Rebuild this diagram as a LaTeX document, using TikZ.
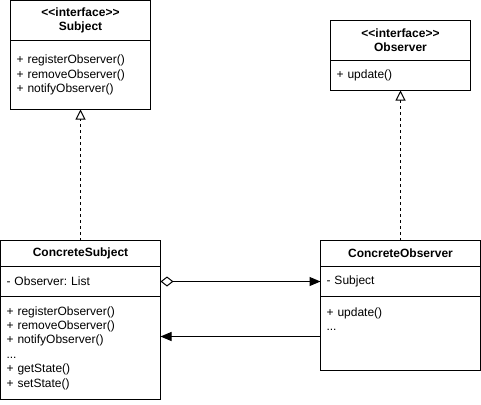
\documentclass[tikz,border=0pt]{standalone}
\usepackage{fontspec}
\newfontfamily\umlfont{Liberation Sans}
\usetikzlibrary{positioning,arrows.meta}
\frenchspacing

\begin{document}
\begin{tikzpicture}[x=0.75pt, y=-0.75pt, line width=0.75pt,
    every node/.style={rectangle, draw, outer sep=0pt, inner sep=0pt, font=\umlfont\fontsize{9}{10.8}\selectfont},
    head/.style={align=center, font=\umlfont\fontsize{9}{10.8}\selectfont\bfseries},
    part/.style={align=left, inner xsep=4.5pt},
    realize/.style={dash pattern=on 2.25pt off 2.25pt, -{Triangle[open, length=7.5pt, width=7.5pt]}},
    agg/.style={{Diamond[open, length=9.75pt, width=7.5pt]}-{Triangle[length=8.25pt, width=6.75pt]}},
    assoc/.style={-{Triangle[length=8.25pt, width=6.75pt]}}]
    \useasboundingbox (0,0) rectangle (481,404);

    % interfaces
    \node [head, anchor=north, minimum width=105pt, minimum height=30pt] (subjHead) at (80.5,0.5) {<<interface>>\\Subject};
    \node [part, text width=96pt, minimum height=51.75pt, below=0pt of subjHead] (subjOps) {+ registerObserver()\\+ removeObserver()\\+ notifyObserver()};

    \node [head, anchor=north, minimum width=105pt, minimum height=30pt] (obsHead) at (400.5,20.5) {<<interface>>\\Observer};
    \node [part, text width=96pt, minimum height=22.5pt, below=0pt of obsHead] (obsOps) {+ update()};

    % concrete classes
    \node [head, anchor=north, minimum width=120pt, minimum height=19.5pt] (csHead) at (80.5,240.5) {ConcreteSubject};
    \node [part, text width=111pt, minimum height=22.5pt, below=0pt of csHead] (csAttr) {- Observer: List};
    \node [part, text width=111pt, minimum height=77.25pt, below=0pt of csAttr] (csOps) {+ registerObserver()\\+ removeObserver()\\+ notifyObserver()\\...\\+ getState()\\+ setState()};

    \node [head, anchor=north, minimum width=120pt, minimum height=19.5pt] (coHead) at (400.5,240.5) {ConcreteObserver};
    \node [part, text width=111pt, minimum height=22.5pt, below=0pt of coHead] (coAttr) {- Subject};
    \node [part, text width=111pt, minimum height=55.5pt, below=0pt of coAttr] (coOps) {+ update()\\...\\\mbox{}\\\mbox{}};

    \draw [realize] (csHead.north) -- (subjOps.south);
    \draw [realize] (coHead.north) -- (obsOps.south);
    \draw [agg] (csAttr.east) -- (coAttr.west);
    \draw [assoc] ([yshift=-2.25pt]coOps.west) -- ([yshift=-2.25pt]coOps.west -| csOps.east);
\end{tikzpicture}
\end{document}
